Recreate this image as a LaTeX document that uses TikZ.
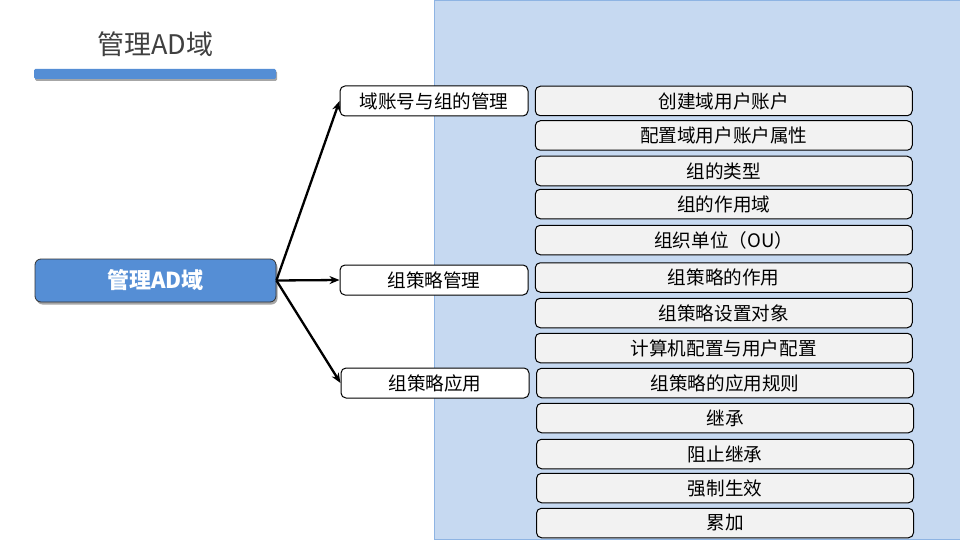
\documentclass[tikz,border=0pt]{standalone}
\usepackage{fontspec}
\setmainfont{Noto Sans CJK SC}
\usetikzlibrary{arrows.meta,shadows}
\definecolor{bgblue}{HTML}{C6D9F1}
\definecolor{bgedge}{HTML}{8EB4E3}
\definecolor{mainblue}{HTML}{558ED5}
\definecolor{boxgray}{HTML}{F2F2F2}
\definecolor{titlegray}{HTML}{404040}
\tikzset{
  rbox/.style={rectangle, rounded corners=5pt, draw=black, line width=1pt, fill=boxgray,
    minimum width=377pt, minimum height=29.5pt, inner sep=0pt, text=black,
    font=\fontsize{18.6}{20}\selectfont},
  mbox/.style={rectangle, rounded corners=5pt, draw=black, line width=1pt, fill=white,
    minimum width=188pt, minimum height=30pt, inner sep=0pt, text=black,
    font=\fontsize{18.6}{20}\selectfont},
  rootbox/.style={rectangle, rounded corners=6pt, draw=black!80, line width=0.8pt, fill=mainblue,
    minimum width=241pt, minimum height=43pt, inner sep=0pt, text=white,
    font=\fontsize{22}{24}\selectfont\bfseries,
    drop shadow={shadow xshift=1.5pt, shadow yshift=-2.5pt, opacity=0.35, fill=black}},
  conn/.style={line width=2.3pt, -{Stealth[length=10pt,width=8pt]}},
}
\begin{document}
\begin{tikzpicture}[x=1pt,y=-1pt]
\useasboundingbox (0,0) rectangle (960,540);
\clip (0,0) rectangle (960,540);
\fill[white] (0,0) rectangle (960,540);
% background panel
\draw[fill=bgblue, draw=bgedge, line width=1pt] (434.5,0.5) rectangle (965,539);
% title
\node[font=\fontsize{27}{30}\selectfont, text=titlegray] (title) at (155.5,44) {管理AD域};
\fill[mainblue, rounded corners=1.5pt, drop shadow={shadow xshift=1pt, shadow yshift=-2pt, opacity=0.35, fill=black}] (34,69) rectangle (276,79);
% root
\node[rootbox] (root) at (155.5,280.5) {管理AD域};
% middle
\node[mbox] (m1) at (434,101) {域账号与组的管理};
\node[mbox] (m2) at (434,280) {组策略管理};
\node[mbox] (m3) at (435,383) {组策略应用};
% right
\node[rbox] (r1) at (723.75,101) {创建域用户账户};
\node[rbox] (r2) at (723.75,135.5) {配置域用户账户属性};
\node[rbox] (r3) at (723.75,171) {组的类型};
\node[rbox] (r4) at (723.75,204) {组的作用域};
\node[rbox] (r5) at (723.75,240) {组织单位（OU）};
\node[rbox] (r6) at (723.75,277.5) {组策略的作用};
\node[rbox] (r7) at (723.75,313) {组策略设置对象};
\node[rbox] (r8) at (723.75,348) {计算机配置与用户配置};
\node[rbox] (r9) at (725,383) {组策略的应用规则};
\node[rbox] (r10) at (725,418) {继承};
\node[rbox] (r11) at (725,454) {阻止继承};
\node[rbox] (r12) at (725,488) {强制生效};
\node[rbox] (r13) at (725,523) {累加};
% connectors
\draw[conn] (root.east) -- (m1.west);
\draw[conn] (root.east) -- (m2.west);
\draw[conn] (root.east) -- (m3.west);
\end{tikzpicture}
\end{document}
